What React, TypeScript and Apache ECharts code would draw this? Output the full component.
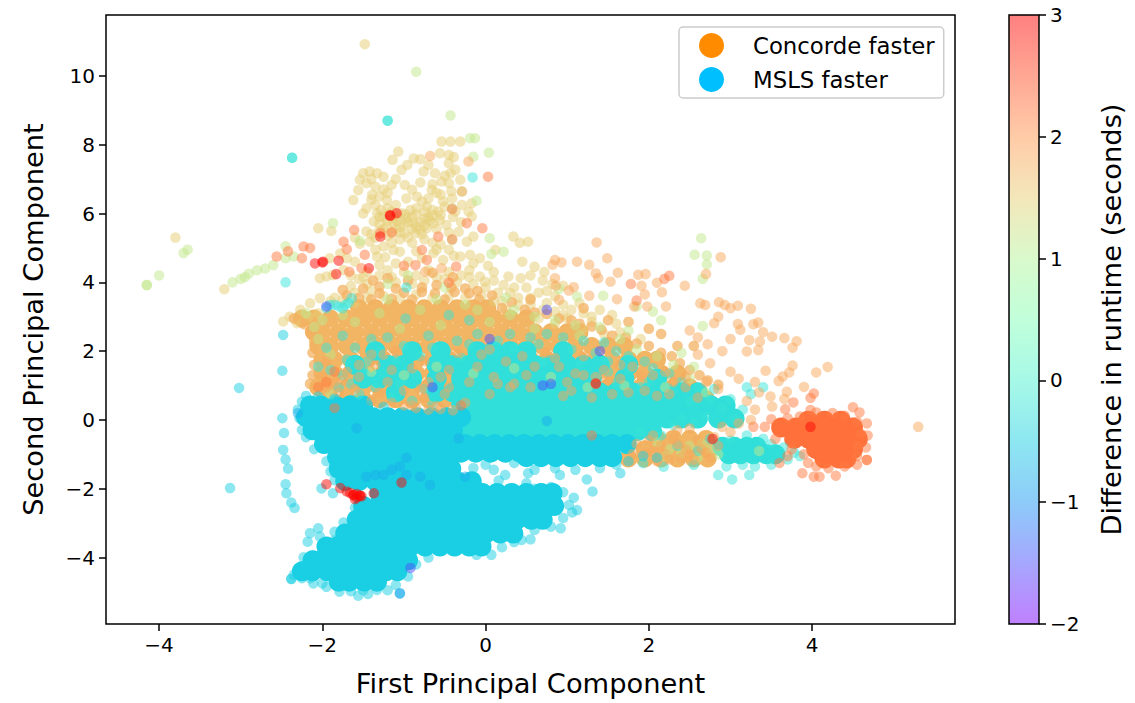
import * as React from "react";
import * as echarts from "echarts";

// ticks
const xTicks = [-4, -2, 0, 2, 4];
const yTicks = [-4, -2, 0, 2, 4, 6, 8, 10];

// rainbow colormap sampled from -2 to 3
const rainbowHex = ["128,0,255", "77,79,252", "26,150,242", "26,207,227", "77,242,206", "128,255,180", "179,242,150", "230,206,116", "255,150,79", "255,79,40", "255,0,0"];

// runtime difference of each group of points (seconds)
const tanDiff = 1.5;
const paleDiff = 1.15;
const orangeTanDiff = 1.85;
const salmonDiff = 2.2;
const redDiff = 2.95;
const tealDiff = -0.22;
const cyanDiff = -0.5;
const blueDiff = -0.8;
const blobDiff = 2.27;

// saturated, heavily overplotted areas, as [y, xs]
const tanCoreRows: [number, number[]][] = [
  [3.25, [-1.55, -1.35, -1.15, -0.95, -0.75, -0.55, -0.35, -0.15, 0.02]],
  [2.95, [-2.25, -2.1, -1.9, -1.7, -1.5, -1.3, -1.1, -0.9, -0.7, -0.5, -0.3, -0.1, 0.1, 0.3, 0.5]],
  [2.55, [-2.1, -2, -1.8, -1.6, -1.4, -1.2, -1, -0.8, -0.6, -0.4, -0.2, 0, 0.2, 0.4, 0.6, 0.8, 1, 1.15]],
  [2.15, [-2.05, -1.9, -1.7, -1.5, -1.3, -1.1, -0.9, -0.7, -0.5, -0.3, -0.1, 0.1, 0.3, 0.5, 0.7, 0.9, 1.1, 1.3, 1.5, 1.7]],
  [1.75, [-2, -1.85, -1.65, -1.45, -1.25, -1.05, -0.85, -0.65, -0.45, -0.25, -0.05, 0.15, 0.35, 0.55, 0.75, 0.95, 1.15, 1.35, 1.55, 1.75, 1.95, 2.1]],
  [1.35, [-2, -1.85, -1.65, -1.45, -1.25, -1.05, -0.85, -0.65, -0.45, -0.25, -0.05, 0.15, 0.35, 0.55, 0.75, 0.95, 1.15, 1.35, 1.55, 1.75, 1.95, 2.15, 2.35]],
  [0.95, [-2.05, -1.9, -1.7, -1.5, -1.3, -1.1, -0.9, -0.7, -0.5, -0.3, -0.1, 0.1, 0.3, 0.5, 0.7, 0.9, 1.1, 1.3, 1.5, 1.7, 1.9, 2.1, 2.3, 2.5]],
  [0.6, [-1.9, -1.7, -1.5, -1.3, -1.1, -0.9, -0.7, -0.5, -0.3, -0.1, 0.1, 0.3, 0.5, 0.7, 0.9, 1.1, 1.3, 1.5, 1.7, 1.9, 2.1, 2.3, 2.5, 2.7]],
  [-0.55, [2.1, 2.3, 2.5, 2.7]],
  [-0.85, [1.95, 2.15, 2.35, 2.55, 2.75]],
  [-1.12, [1.75, 1.95, 2.15, 2.35, 2.55, 2.72]],
];

const tealCoreRows: [number, number[]][] = [
  [2.0, [-1.35, -0.9, -0.55, -0.1, 0.1, 0.3, 0.5, 0.95]],
  [1.6, [-1.6, -1.2, -1, -0.6, -0.4, -0.2, 0, 0.2, 0.4, 0.6, 0.8, 1, 1.2, 1.4, 1.75]],
  [1.2, [-1.5, -1.3, -1.1, -0.9, -0.6, -0.3, -0.1, 0.1, 0.3, 0.5, 0.7, 0.9, 1.1, 1.3, 1.7, 2.1]],
  [0.8, [-1.1, -0.6, -0.4, -0.2, 0, 0.2, 0.4, 0.6, 0.8, 1, 1.2, 1.4, 1.6, 1.8, 2, 2.2, 2.4, 2.6]],
  [0.42, [-0.3, -0.12, 0.06, 0.24, 0.42, 0.6, 0.78, 0.96, 1.14, 1.32, 1.5, 1.68, 1.86, 2.04, 2.22, 2.4, 2.58, 2.76, 2.94]],
  [0.04, [-0.3, -0.12, 0.06, 0.24, 0.42, 0.6, 0.78, 0.96, 1.14, 1.32, 1.5, 1.68, 1.86, 2.04, 2.22, 2.4, 2.6, 2.85, 3.05]],
  [-0.32, [-0.3, -0.12, 0.06, 0.24, 0.42, 0.6, 0.78, 0.96, 1.14, 1.32, 1.5, 1.68, 1.86, 2.04]],
  [-0.78, [2.9, 3.05, 3.2, 3.32]],
  [-1.0, [2.98, 3.12, 3.28, 3.44, 3.55]],
];

const cyanCoreRows: [number, number[]][] = [
  [0.42, [-2.15, -2.02, -1.84, -1.66, -1.5]],
  [0.08, [-2.2, -2.1, -1.92, -1.74, -1.56, -1.38, -1.2, -1.02, -0.84, -0.66, -0.48, -0.3]],
  [-0.3, [-2.12, -2.02, -1.84, -1.66, -1.48, -1.3, -1.12, -0.94, -0.76, -0.58, -0.4]],
  [-0.7, [-1.98, -1.87, -1.69, -1.51, -1.33, -1.15, -0.97, -0.79, -0.61, -0.43, -0.25, -0.07, 0.11, 0.29, 0.47, 0.65, 0.83, 1.01, 1.19, 1.37, 1.55, 1.73]],
  [-1.08, [-1.82, -1.72, -1.54, -1.36, -1.18, -1, -0.82, -0.64, -0.46, 0.5, 0.68, 0.86, 1.04, 1.22, 1.4, 1.55]],
  [-0.95, [-0.3, -0.12, 0.06, 0.24, 0.42]],
  [-1.42, [-1.8, -1.64, -1.46, -1.28, -1.1, -0.92, -0.74, -0.56, -0.42]],
  [-1.78, [-1.72, -1.55, -1.35, -1.15, -0.95, -0.75, -0.55, -0.35, -0.17]],
  [-2.12, [-1.3, -1.12, -0.94, -0.76, -0.58, -0.4, -0.22, -0.04, 0.14, 0.32, 0.5, 0.68, 0.82]],
  [-2.5, [-1.5, -1.32, -1.14, -0.96, -0.78, -0.6, -0.42, -0.24, -0.06, 0.12, 0.3, 0.48, 0.66, 0.84]],
  [-2.9, [-1.58, -1.42, -1.24, -1.06, -0.88, -0.7, -0.52, -0.34, -0.16, 0.02, 0.2, 0.38, 0.56, 0.7]],
  [-3.3, [-1.72, -1.62, -1.44, -1.26, -1.08, -0.9, -0.72, -0.54, -0.36, -0.18, 0, 0.18, 0.34]],
  [-3.68, [-1.95, -1.82, -1.64, -1.46, -1.28, -1.1, -0.92, -0.74, -0.56, -0.38, -0.2, -0.05]],
  [-4.08, [-2.12, -2.02, -1.84, -1.66, -1.48, -1.3, -1.12, -0.95]],
  [-4.4, [-2.25, -2.12, -1.94, -1.76, -1.58, -1.4, -1.22, -1.08]],
  [-4.7, [-1.8, -1.67, -1.49, -1.33]],
];

const blobCoreRows: [number, number[]][] = [
  [-0.02, [3.95, 4.15, 4.35]],
  [-0.22, [3.62, 3.8, 3.98, 4.16, 4.34, 4.5]],
  [-0.55, [3.78, 3.96, 4.14, 4.32, 4.5, 4.56]],
  [-0.85, [4.05, 4.23, 4.41, 4.5]],
  [-1.12, [4.15, 4.33, 4.42]],
];

// pale tan cloud above the main body
const tanPoints = [
  [-1.48, 10.92], [-3.8, 5.3], [-3.2, 3.8], [-0.54, 8.09], [-0.43, 8.09], [-0.31, 8.09], [-1.07, 7.8], [-1.14, 7.56], [-0.88, 7.6], [-0.8, 7.58],
  [-0.56, 7.75], [-0.45, 7.7], [-0.39, 7.64], [-0.45, 7.46], [-0.37, 7.27], [-0.43, 7.17], [-0.96, 7.41], [-1.03, 7.27], [-0.76, 7.22], [-0.7, 7.41],
  [-0.62, 7.17], [-1.5, 7.17], [-1.42, 7.22], [-1.33, 7.17], [-1.25, 7.07], [-1.54, 6.98], [-1.46, 6.88], [-1.35, 6.78], [-1.39, 6.54], [-1.56, 6.68],
  [-1.62, 6.39], [-1.15, 6.83], [-0.99, 6.83], [-0.8, 6.9], [-0.54, 6.93], [-0.45, 6.88], [-0.31, 6.98], [-0.9, 6.69], [-0.84, 6.49], [-0.66, 6.69],
  [-0.7, 6.44], [-0.78, 6.35], [-0.52, 6.35], [-0.41, 6.44], [-0.29, 6.25], [-0.17, 6.3], [-1.21, 6.39], [-0.97, 6.44], [-0.37, 6.06], [-0.21, 6.06],
  [-0.17, 5.91], [-0.33, 5.47], [-0.15, 5.33], [-0.23, 5.18], [-1.46, 6.15], [-1.33, 6.01], [-1.25, 5.91], [-1.03, 6.01], [-0.92, 6.1], [-0.72, 6.2],
  [-0.58, 6.06], [-0.56, 5.81], [-0.64, 5.72], [-0.72, 5.57], [-0.8, 5.52], [-0.88, 5.72], [-0.97, 5.86], [-1.05, 5.62], [-1.13, 5.72], [-1.21, 5.62],
  [-1.37, 5.77], [-1.46, 5.48], [-1.15, 5.43], [-0.99, 5.43], [-0.86, 5.43], [-0.48, 5.67], [-1.3, 5.9], [-1.12, 5.85], [-1.0, 5.7], [-0.9, 5.9],
  [-0.8, 5.75], [-0.7, 5.9], [-0.6, 5.55], [-1.25, 5.55], [-1.1, 5.55], [-0.75, 6.05], [-1.54, 5.12], [-1.42, 5.18], [-1.25, 5.04], [-1.05, 4.89],
  [-1.33, 4.75], [-1.23, 4.73], [-1.13, 4.94], [-0.64, 4.85], [-0.78, 4.7], [-0.52, 4.65], [-0.39, 4.77], [-0.31, 4.75], [-0.19, 4.8], [-0.07, 4.7],
  [0.34, 5.33], [0.42, 5.15], [0.52, 5.18], [-0.15, 4.55], [0.03, 4.48], [-0.07, 4.17], [0.28, 4.17], [0.43, 4.12], [0.22, 3.92], [-0.01, 4.02],
  [0.12, 4.94], [-2.05, 5.57], [-1.89, 5.49], [-2.03, 4.12], [-1.95, 4.17], [-1.87, 4.21], [-1.74, 4.36], [-1.91, 4.7], [-1.78, 4.84], [-2.4, 3.0],
  [-2.27, 3.2], [-2.15, 3.39], [-2.03, 3.54], [-2.31, 2.81], [-2.17, 3.0], [-2.05, 3.1], [-2.48, 2.86], [0.45, 4.6], [0.6, 4.45], [0.72, 4.3],
  [0.55, 4.2], [0.7, 4.05], [0.82, 3.95], [0.5, 3.85], [0.65, 3.7], [0.3, 3.7], [0.4, 3.55], [0.85, 3.6], [0.95, 3.35], [1.05, 3.2], [1.2, 3.1], [1.3, 3.0],
  [-1.2, 4.35], [-1.0, 4.3], [-0.85, 4.2], [-0.6, 4.15], [-0.3, 4.2], [-0.15, 3.95], [-1.45, 3.95], [-1.6, 3.7], [-1.85, 3.55],
  [-1.35, 6.25], [-1.2, 6.15], [-1.1, 6.25], [-0.85, 6.15], [-0.65, 6.1], [-1.3, 5.7], [-1.2, 5.35], [-1.05, 5.25], [-0.9, 5.15], [-0.75, 5.25], [-0.65, 5.15],
  [-1.4, 5.4], [-0.55, 5.1], [-1.15, 5.15], [-0.95, 4.6], [-1.1, 4.55], [-1.3, 4.5], [-1.45, 4.3], [-1.3, 4.2], [-1.55, 4.1], [-0.7, 4.35], [-0.45, 4.3],
  [-0.2, 4.35], [0.1, 4.3], [-0.5, 4.1], [0.0, 3.85], [-0.9, 3.95], [-1.1, 4.0], [-1.65, 3.9], [-1.4, 3.75], [0.15, 3.7], [-1.1, 7.0], [-1.2, 6.6], [-0.6, 6.6], [-0.5, 7.1],
  [0.95, 3.9], [1.15, 3.4], [0.75, 3.4], [0.55, 3.35], [1.4, 3.2], [1.55, 3.05], [1.3, 2.85], [1.6, 2.8], [0.95, 3.05],
  [-1.28, 6.1], [-1.18, 5.98], [-1.08, 5.92], [-0.98, 5.98], [-0.85, 5.98], [-0.75, 5.85], [-0.65, 5.95], [-1.2, 5.8], [-1.08, 5.78], [-0.95, 5.75], [-0.85, 5.62], [-0.75, 5.65], [-0.68, 5.8],
  [-1.3, 5.5], [-1.05, 5.45], [-0.9, 5.55], [-0.78, 5.4], [-0.95, 5.3], [-1.35, 5.3], [-1.15, 6.05], [-0.55, 5.95], [-1.5, 6.0], [-1.4, 6.4], [-1.3, 6.5], [-1.25, 6.7], [-1.4, 7.0],
  [-0.65, 6.85], [-0.55, 6.55], [-0.42, 6.65], [-0.5, 6.2], [-0.4, 5.9], [-0.3, 5.75], [-0.45, 5.45], [-1.6, 5.3], [-1.7, 4.7], [-1.6, 4.6], [-1.35, 4.95], [-0.85, 4.9], [-0.6, 4.95], [-0.45, 4.95],
  [-1.65, 4.2], [-1.5, 4.15], [-1.15, 4.15], [-0.75, 4.05], [-0.35, 4.0], [-0.2, 4.15], [0.1, 4.05], [0.35, 3.85], [0.55, 3.55], [0.75, 3.75], [0.2, 3.45], [0.4, 3.35], [0.7, 3.2], [0.85, 3.15], [1.0, 2.95],
  [-1.45, 3.55], [-1.25, 3.6], [-1.05, 3.55], [-0.85, 3.65], [-0.65, 3.55], [-0.45, 3.6], [-0.25, 3.55], [-0.05, 3.6], [0.1, 3.45], [-1.75, 3.5], [-1.9, 3.45], [-1.6, 3.4], [0.25, 3.2], [0.65, 2.95], [0.85, 2.8], [1.2, 2.65], [1.45, 2.5], [1.65, 2.55], [1.9, 2.35],
];

// denser tan-orange fringe just above the saturated area
const fringePoints = [
  [-1.7, 3.62], [-1.55, 3.55], [-1.4, 3.5], [-1.3, 3.68], [-1.15, 3.52], [-1, 3.7], [-0.9, 3.5], [-0.78, 3.72], [-0.62, 3.68], [-0.5, 3.5], [-0.38, 3.72], [-0.2, 3.68], [-0.08, 3.5], [0.08, 3.62],
  [-1.5, 3.82], [-1.3, 3.88], [-1.1, 3.82], [-0.95, 4.05], [-0.78, 3.85], [-0.6, 3.92], [-0.42, 3.85], [-0.25, 3.82], [-0.1, 3.75], [-1.38, 4.05], [-1.2, 4.12], [-0.65, 4.28], [-0.4, 4.15], [-1.75, 3.78],
  [0.2, 3.25], [0.32, 3.42], [0.48, 3.2], [0.6, 3.12], [0.75, 3.08], [0.9, 2.95], [1.05, 2.9], [1.15, 2.8], [1.3, 2.72], [1.42, 2.62], [1.55, 2.45], [1.72, 2.4], [1.85, 2.22], [2, 2.15], [2.15, 1.95],
  [2.28, 1.85], [2.38, 1.65], [2.5, 1.45], [2.62, 1.3], [2.72, 1.15], [2.85, 1.02], [2.35, 2.15], [2.55, 2.15], [2.15, 2.5], [2, 2.65], [1.75, 2.85], [1.5, 2.9], [1.2, 3.25], [0.55, 3.5],
  [-2.35, 2.95], [-2.22, 2.78], [-2.15, 2.55], [-2.1, 2.3], [-2.12, 1.95], [-2.1, 1.6], [-2.12, 1.3], [-2.15, 1.05],
];

const palePoints = [
  [-0.85, 10.12], [-0.43, 8.85], [-3.7, 4.85], [-3.65, 4.95], [-4.15, 3.92], [-4.15, 3.92], [-4, 4.2], [-3.1, 4], [-3, 4.1], [-2.95, 4.15],
  [-2.9, 4.25], [-2.8, 4.35], [-2.7, 4.4], [-2.6, 4.5], [-2.45, 4.7], [-2.35, 4.75], [-2.45, 5.05], [-0.19, 8.19], [-0.13, 8.19], [0.04, 7.77],
  [-0.15, 7.65], [-0.29, 6.64], [-0.11, 6.37], [-0.41, 6.15], [0.05, 5.28], [-0.41, 5.23], [0.07, 4.82], [0.22, 4.89], [2.64, 5.28], [2.56, 4.8],
  [2.71, 4.78], [2.71, 4.52], [2.66, 4.1], [2.66, 2.73], [-1.87, 5.72], [-1.54, 5.2], [-0.95, 4.2], [0.9, 3.8], [1.12, 3.59], [1.44, 3.61],
  [1.85, 3.3], [2.05, 3.15], [2.15, 2.9], [-2.1, 2.7], [-1.2, 3.95], [-0.5, 3.85], [0.35, 3.2], [0.6, 3.0], [1.1, 2.75], [1.75, 2.6], [2.4, 1.95], [2.55, 1.55],
  [-2.05, 2.35], [-1.9, 1.9], [-1.6, 2.85], [-1.3, 3.1], [-1.05, 2.65], [-0.8, 3.2], [-0.55, 2.75], [-0.25, 3.35], [0.05, 2.85], [0.3, 3.05], [0.6, 2.65], [0.85, 2.9],
  [1.15, 2.45], [1.4, 2.7], [1.65, 2.35], [1.85, 2.05], [2.1, 1.85], [2.3, 1.6], [2.5, 1.2], [2.7, 0.8], [-1.9, 0.75], [-1.4, 1.4], [-1.0, 1.3], [-0.6, 1.55], [-0.15, 1.35],
  [0.35, 1.5], [0.8, 1.25], [1.25, 0.95], [1.7, 1.0], [2.2, 0.95], [-1.2, 3.5], [-0.6, 3.5], [-0.1, 3.2], [0.25, 3.55], [-2.2, 3.1], [-2.0, 2.9], [-1.75, 3.05], [2.1, -0.65], [2.4, -0.95], [2.65, -0.7], [3.35, -0.9],
  [2.25, -0.85], [2.5, -0.75], [2.75, -0.85], [2.2, -1.05], [2.6, -1.1], [2.85, -1.0],
];

const tealPoints = [
  [-1.2, 8.7], [-1.2, 8.7], [-2.37, 7.62], [-2.37, 7.62], [-0.16, 7.05], [-2.45, 4], [-1.91, 3.34], [-1.8, 3.3], [-1.72, 3.34], [-1.64, 3.54], [-1.95, 3.25],
  [-1.85, 3.35], [-1.75, 3.25], [-1.68, 3.4], [-0.97, 3.85], [-0.98, 2.95], [-0.45, 3.05], [-0.2, 2.9], [-0.1, 2.5], [0.3, 2.5], [0.55, 2.4],
  [-1.75, 2.45], [-1.4, 2.35], [-1.2, 2.4], [-0.7, 2.45], [-0.35, 2.3], [0.15, 2.3], [0.75, 2.5], [0.95, 2.4], [1.2, 2.3], [1.45, 2.25], [1.6, 2],
  [1.75, 1.85], [1.95, 1.7], [2.05, 1.5], [2.25, 1.35], [2.4, 1.1], [2.6, 0.95], [2.8, 0.9], [3.2, 0.95], [3.0, 0.6], [3.15, 0.3], [3.05, 0.05],
  [2.55, -0.1], [2.4, 0.05], [2.7, 0.1], [-1.7, 1.75], [-1.45, 1.7], [-1.1, 1.75], [-0.8, 1.85], [-0.3, 1.8], [0.7, 1.7], [1.15, 1.6], [1.5, 1.7], [1.75, 1.45], [2.0, 1.1],
  [-1.95, 2.1], [-2.05, 1.55], [-1.8, 0.95], [-1.55, 0.75], [-1.15, 0.65], [-0.9, 0.55], [-0.65, 0.45], [2.75, -0.55], [3, -0.6], [3.2, -0.45], [3.4, -0.55],
  [3.5, -0.7], [3.65, -0.8], [3.78, -0.95], [3.85, -1.05], [3.7, -1.15], [3.5, -1.3], [3.3, -1.35], [3.15, -1.3], [2.95, -1.35], [2.85, -1.6], [3.02, -1.73], [3.23, -1.6],
  [2.55, -1.31], [2.18, -1.36], [1.93, -1.26], [2.35, -0.75], [2.6, -0.9], [2.15, -0.45], [2.3, -0.15], [1.9, -0.35],
  [-1.6, 2.1], [-1.3, 2.0], [-1.0, 2.15], [-0.65, 2.1], [-0.2, 2.2], [0.35, 2.1], [0.65, 2.2], [1.05, 2.05], [1.35, 1.95], [-1.75, 1.3], [-1.5, 1.45], [-1.25, 1.35], [-0.85, 1.3], [-0.75, 0.9], [-1.05, 1.05], [-1.35, 0.95], [-1.65, 1.05],
  [-1.9, 1.45], [1.5, 1.4], [1.6, 1.05], [1.9, 0.95], [2.3, 0.85], [2.5, 0.55], [2.75, 0.6], [2.9, 0.35], [3.25, 0.75], [3.4, 0.95],
];

const orangeTanPoints = [
  [1.36, 5.16], [1.49, 4.7], [1.27, 4.51], [1.12, 4.6], [0.85, 4.65], [0.93, 4.58], [0.82, 4.51], [1.35, 4.26], [1.38, 4.12], [1.62, 4.28],
  [1.53, 4.02], [0.85, 4.12], [0.86, 3.9], [1.08, 3.86], [1.02, 3.76], [1.27, 3.61], [1.61, 3.51], [0.9, 3.49], [1.87, 4.22], [1.96, 4.24],
  [1.91, 3.9], [2.1, 3.99], [2.16, 3.71], [2.44, 3.9], [1.95, 3.65], [1.82, 3.3], [1.98, 3.3], [2.21, 3.3], [2.88, 4.73], [2.7, 4.24], [2.63, 3.39],
  [2.69, 3.34], [2.86, 3.42], [2.93, 3.34], [3, 3.25], [3.09, 3.32], [3.25, 3.23], [2.85, 3], [2.8, 2.81], [3.09, 2.79], [3.12, 2.62], [3, 2.35],
  [3.28, 2.78], [3.34, 2.83], [3.4, 2.55], [3.51, 2.42], [3.66, 2.38], [3.81, 2.29], [3.76, 2.1], [3.23, 2.32], [3.36, 2.28], [3.2, 1.99],
  [3.34, 2.03], [3.43, 1.43], [3.76, 1.58], [3.72, 1.38], [3.64, 1.26], [3.59, 1.13], [4.05, 1.38], [4.19, 1.54], [3.9, 0.96], [3.69, 0.82],
  [3.66, 0.61], [3.49, 0.68], [3.51, 0.39], [5.3, -0.2], [-0.68, 7.67], [-0.21, 7.51], [-0.29, 6.64], [-0.54, 4.41], [-0.74, 4.31], [2.5, 2.6],
  [2.6, 2.4], [2.72, 2.2], [2.9, 2.0], [2.6, 1.9], [2.75, 1.65], [3.0, 1.4], [3.1, 1.2], [3.3, 1.1], [3.35, 0.8], [3.2, 0.55], [3.3, 0.3], [2.45, 1.25],
  [2.3, 1.1], [2.7, 1.1], [2.85, 0.9], [-0.85, 0.35], [-0.7, 0.3], [-0.55, 0.32], [-0.4, 0.28], [-1.4, 0.55], [-1.15, 0.5], [-1.0, 0.42], [-1.8, 0.8], [-1.6, 0.9],
  [-1.3, 0.8], [-1.0, 0.85], [-0.75, 0.65], [2.0, -0.6], [2.15, -0.75], [2.3, -0.55], [2.45, -0.85], [2.6, -0.6], [2.2, -1.0], [1.95, -0.95], [2.4, -1.1],
  [2.55, -1.15], [2.7, -0.95], [2.1, -1.2], [1.85, -0.7], [2.8, -0.5], [3, -0.35], [2.9, -0.2], [3.1, -0.1], [3.25, 0], [2.35, -0.3], [2.5, -0.25],
  [-1.85, 1.1], [-1.7, 1.4], [-1.95, 1.7], [-0.9, 1.5], [-0.7, 1.1], [-0.55, 1.25], [0.25, 1.7], [0.75, 1.95], [1.2, 1.85], [1.2, 1.3], [1.5, 1.15], [1.9, 1.3],
  [0.05, 2.05], [-0.35, 1.95], [-1.4, 1.9], [-1.1, 2.0], [1.55, 0.75], [0.95, 0.7], [0.35, 1.05],
  [-0.9, 0.42], [-0.6, 0.4], [-0.25, 0.5], [-1.95, 0.95], [-2.0, 1.25], [-1.75, 1.15], [-1.55, 1.25], [-1.2, 1.1], [-1.35, 1.6], [-0.8, 0.9], [-0.5, 0.75], [0.1, 1.25], [0.6, 1.55], [0.3, 0.95], [1.0, 1.1], [1.45, 1.45],
  [1.65, 1.2], [1.95, 0.85], [2.25, 0.75], [1.8, 1.55], [2.2, 1.4], [2.05, -0.9], [2.25, -1.15], [2.5, -1.0], [2.35, -0.7], [2.65, -0.85], [2.75, -1.1], [1.8, -1.0], [2.05, -0.45], [2.85, -0.75],
  [-1.25, 1.9], [-0.75, 1.7], [-0.45, 1.45], [-0.1, 1.55], [0.15, 1.05], [0.5, 1.3], [0.55, 0.95], [0.9, 1.55], [1.35, 1.25], [1.05, 0.85], [1.75, 0.8], [-0.2, 1.1], [-0.45, 0.95], [0.05, 0.75], [1.3, 0.65], [2.1, 0.7], [2.45, 0.95], [2.6, 0.65],
  [-1.55, 1.6], [-1.15, 1.45], [0.45, 1.85], [-0.05, 1.9], [0.85, 1.8], [1.1, 1.35], [1.65, 1.6], [2.05, 1.3],
];

const salmonPoints = [
  [0.03, 7.07], [-0.23, 5.72], [-0.04, 5.57], [-0.41, 5.25], [-1.61, 5.52], [-1.74, 5.18], [-1.7, 4.96], [-1.67, 4.31], [-1.52, 4.41], [-1.48, 4.8],
  [-0.78, 4.94], [-1, 4.48], [-0.86, 4.5], [-0.72, 4.65], [-0.45, 3.99], [-0.36, 4.46], [-0.58, 5.33], [-0.41, 6.13], [-2.23, 5.04], [-2.56, 4.75],
  [-2.42, 4.9], [-1.29, 5.43], [-1.15, 5.45], [-2.25, 4.7], [-2.15, 5], [3.98, 0.64], [4.02, 0.77], [3.77, 0.51], [3.67, 0.31], [3.98, 0.29],
  [4.5, 0.37], [4.58, 0.22], [4.67, -0.1], [4.68, -0.45], [4.66, -0.8], [4.67, -1.16], [4.67, -1.16], [4.02, -1.65], [4.09, -1.65], [4.29, -1.62],
  [3.88, -1.55], [3.6, -1.25], [3.7, -1.05], [3.28, -0.2], [3.42, -0.2], [3.5, 0.02], [3.95, -1.25], [4.55, -1.3], [1.78, 3.95], [2.19, 4.1], [2.25, 4.19],
  [1.85, 3.47], [-1.85, 0.35], [-1.95, 1.1], [-2.05, 0.95], [-1.85, 1.4], [-0.3, 0.42], [1.35, 1.05], [1.3, -0.45],
  [3.7, 0.05], [3.85, 0.1], [4.05, 0.22], [4.25, 0.2], [4.4, 0.12], [4.55, -0.05], [4.6, -0.4], [4.55, -0.75], [4.55, -1.05], [4.4, -1.35], [4.2, -1.4], [4.05, -1.35], [3.9, -1.0], [3.75, -0.85], [3.55, -0.55],
];

const redPoints = [
  [-2.09, 4.55], [-2, 4.58], [-1.99, 4.6], [-1.8, 4.63], [-1.83, 4.24], [-1.43, 4.41], [-1.17, 5.94], [-1.17, 5.94], [-1.09, 6.01], [-1.29, 5.33],
  [-1.95, -1.87], [-1.78, -1.98], [-1.7, -2.08], [-1.62, -2.18], [-1.62, -2.18], [-1.54, -2.2], [-1.54, -2.2], [-1.6, -2.3], [-1.37, -2.13], [-1.03, -1.82],
  [-1.58, -2.15], [-1.58, -2.25], [-1.52, -2.22], [-1.66, -2.12], [1.35, 1.06], [2.78, -0.55], [3.98, -0.2],
];

const cyanPoints = [
  [-3.02, 0.93], [-3.13, -1.98], [-2.49, 1.43], [-2.48, 2.47], [-2.49, 0.05], [-2.47, -0.38], [-2.48, -0.87], [-2.45, -1.15], [-2.42, -1.42], [-2.45, -1.87],
  [-2.44, -2.13], [-2.38, -2.4], [-2.34, -2.56], [-2.15, -3.29], [-2.05, -3.15], [-2.03, -3.39], [-2.18, -3.54], [-1.85, -3.25], [-1.74, -2.98], [-2.23, -3.99],
  [1.08, -2.26], [1.02, -2.47], [1.12, -2.62], [1.06, -2.69], [0.92, -3.15], [0.55, -3.47], [0.44, -3.49], [0.07, -3.92], [-0.11, -3.92], [-1.56, -5.11],
  [-1.44, -5.06], [-1.33, -4.94], [-1.79, -4.99], [-2.11, -4.75], [-2.38, -4.62], [-2.38, -4.62], [-2.25, -4.6], [1.24, -1.73], [1.31, -2.08], [0.91, -1.6], [0.5, -1.84],
  [0.52, -1.55], [0.24, -1.6], [0.16, -1.76], [-1.87, -2.13], [-2.01, -1.99], [-2.25, 0.53], [-2.25, -0.29], [1.65, -1.55], [1.93, -1.05], [1.75, -1.2],
  [2.1, -1.1], [-2.3, -4.4], [-2.2, -4.25], [-2.1, -3.95], [-1.95, -3.7], [-2.2, 0.7], [-2.05, 0.68], [-1.85, 0.62], [-1.65, 0.58], [-1.45, 0.42], [-1.25, 0.38], [-2.3, 0.3], [-2.28, 0.05], [-2.2, -0.5],
  [-2.1, -0.85], [-1.95, -1.2], [-1.9, -1.5], [-1.85, -1.75], [-1.6, -2.55], [-1.55, -2.75], [-1.85, -3.5], [0.95, -2.1], [0.95, -2.85], [0.8, -3.1], [0.6, -3.2], [0.35, -3.55], [0.2, -3.7],
  [-0.7, -4.0], [-0.85, -4.2], [-0.95, -4.55], [-1.1, -4.8], [-1.2, -4.95], [-1.65, -4.98], [-1.95, -4.85], [0.3, -2.0], [0.6, -2.0], [0.8, -1.95], [0.6, -1.45], [0.85, -1.4], [1.1, -1.45], [1.4, -1.4], [1.6, -1.3],
  [0.0, -1.3], [0.1, -1.45], [-0.15, -1.4], [0.35, -1.25], [-0.1, -1.9], [-0.3, -1.95], [-2.35, -4.5], [-2.15, -4.6], [-2.0, -4.75], [-1.5, -4.95],
];

const bluePoints = [
  [-1.46, -1.65], [-1.35, -1.6], [-1.25, -1.6], [-0.97, -1.1], [-0.97, -1.6], [-0.8, -1.65], [-0.68, -1.89], [-0.25, -1.65], [-1.58, -0.24], [-0.33, -0.54],
  [-1.05, -5.04], [-1.05, -5.04], [-1.05, -1.35], [-1.15, -1.45], [0.75, -0.03], [-2.3, 0.2],
];

const indigoPoints = [
  [0.75, 3.2], [1.4, 2], [-0.65, 0.95], [0.7, 1], [0.05, 2.35], [-0.92, -4.3], [-1.95, 3.3], [0.8, 1.05],
];

const flatten = (rows: [number, number[]][], diff: number) =>
  rows.flatMap(([y, xs]) => xs.map((x) => [x, y, diff]));

const dots = (name: string, pts: number[][], diff: number) => ({
  name,
  type: "scatter",
  symbolSize: 10.5,
  data: pts.map((p) => [p[0], p[1], diff]),
  itemStyle: { borderWidth: 0, opacity: 1 },
  silent: true,
});

const core = (name: string, rows: [number, number[]][], diff: number, size = 20) => ({
  name,
  type: "scatter",
  symbolSize: size,
  data: flatten(rows, diff),
  itemStyle: { borderWidth: 0, opacity: 1 },
  silent: true,
});

export default function App() {
  const elRef = React.useRef<HTMLDivElement | null>(null);

  React.useEffect(() => {
    if (!elRef.current) return;
    const chart = echarts.init(elRef.current, null, { renderer: "svg" });

    const font = "DejaVu Sans";
    const minus = (v: number | string) => String(v).replace("-", "\u2212");

    // colorbar shows the colormap at alpha 0.5 on white
    const barStops = rainbowHex.map((c, i) => {
      const rgb = c.split(",").map((n) => Math.round((Number(n) + 255) / 2));
      return { offset: i / (rainbowHex.length - 1), color: `rgb(${rgb.join(",")})` };
    });

    const coreSeries = [
      core("tanCore", tanCoreRows, 1.72, 18),
      core("tealCore", tealCoreRows, -0.28, 20),
      core("cyanCore", cyanCoreRows, cyanDiff),
      core("blobCore", blobCoreRows, blobDiff),
    ];
    const dotSeries = [
      dots("tan", tanPoints, tanDiff),
      dots("fringe", fringePoints, 1.75),
      dots("fringe2", fringePoints, 1.75),
      dots("pale", palePoints, paleDiff),
      dots("teal", tealPoints, tealDiff),
      dots("orangeTan", orangeTanPoints, orangeTanDiff),
      dots("salmon", salmonPoints, salmonDiff),
      dots("cyan", cyanPoints, cyanDiff),
      dots("blue", bluePoints, blueDiff),
      dots("indigo", indigoPoints, -1.5),
      dots("red", redPoints, redDiff),
    ];
    const coreIdx = coreSeries.map((_, i) => i);
    const dotIdx = dotSeries.map((_, i) => i + coreSeries.length);

    chart.setOption({
      animation: false,
      backgroundColor: "#fff",
      textStyle: { fontFamily: font },
      grid: [
        { left: 106, top: 15, width: 849, height: 609, show: true, borderColor: "#000", borderWidth: 1.5, backgroundColor: "transparent" },
        {
          left: 1009, top: 15, width: 30, height: 609, show: true, borderColor: "#000", borderWidth: 1.5,
          backgroundColor: new echarts.graphic.LinearGradient(0, 1, 0, 0, barStops),
        },
      ],
      xAxis: [
        {
          gridIndex: 0, type: "value", min: -4.65, max: 5.75, splitLine: { show: false },
          axisLine: { show: false, onZero: false },
          axisTick: { show: true, length: 7, customValues: xTicks, lineStyle: { color: "#000", width: 1.5 } },
          axisLabel: { customValues: xTicks, color: "#000", fontSize: 20, margin: 11, fontFamily: font, formatter: minus },
          name: "First Principal Component", nameLocation: "middle", nameGap: 46,
          nameTextStyle: { fontSize: 27.3, color: "#000", fontFamily: font },
        },
        { gridIndex: 1, type: "value", show: false, min: 0, max: 1 },
      ],
      yAxis: [
        {
          gridIndex: 0, type: "value", min: -5.93, max: 11.77, splitLine: { show: false },
          axisLine: { show: false, onZero: false },
          axisTick: { show: true, length: 7, customValues: yTicks, lineStyle: { color: "#000", width: 1.5 } },
          axisLabel: { customValues: yTicks, color: "#000", fontSize: 20, margin: 11, fontFamily: font, formatter: minus },
          name: "Second Principal Component", nameLocation: "middle", nameGap: 59,
          nameTextStyle: { fontSize: 27.3, color: "#000", fontFamily: font },
        },
        {
          gridIndex: 1, type: "value", position: "right", min: -2, max: 3, interval: 1, splitLine: { show: false },
          axisLine: { show: false, onZero: false },
          axisTick: { show: true, length: 7, lineStyle: { color: "#000", width: 1.5 } },
          axisLabel: { color: "#000", fontSize: 20, margin: 11, fontFamily: font, formatter: minus },
          name: "Difference in runtime (seconds)", nameLocation: "middle", nameGap: 59, nameRotate: 90,
          nameTextStyle: { fontSize: 27.3, color: "#000", fontFamily: font },
        },
      ],
      visualMap: [
        {
          type: "continuous", show: false, min: -2, max: 3, dimension: 2, seriesIndex: coreIdx,
          inRange: { color: rainbowHex.map((c) => `rgb(${c})`) },
        },
        {
          type: "continuous", show: false, min: -2, max: 3, dimension: 2, seriesIndex: dotIdx,
          inRange: { color: rainbowHex.map((c) => `rgba(${c},0.5)`) },
        },
      ],
      legend: {
        left: 679, top: 27, orient: "vertical", icon: "circle", itemWidth: 25, itemHeight: 25, itemGap: 9,
        padding: [6, 9, 6, 20], backgroundColor: "#fff", borderColor: "#ccc", borderWidth: 1.5, borderRadius: 4,
        textStyle: { fontSize: 22.8, color: "#000", fontFamily: font, padding: [0, 0, 0, 24] },
        data: ["Concorde faster", "MSLS faster"],
        selectedMode: false,
      },
      series: [
        ...coreSeries,
        ...dotSeries,
        { name: "Concorde faster", type: "scatter", data: [], itemStyle: { color: "#ff8c00", opacity: 1 } },
        { name: "MSLS faster", type: "scatter", data: [], itemStyle: { color: "#00bfff", opacity: 1 } },
      ],
    });

    return () => chart.dispose();
  }, []);

  return <div ref={elRef} style={{ position: "absolute", left: 0, top: 0, width: 1135, height: 703 }} />;
}
